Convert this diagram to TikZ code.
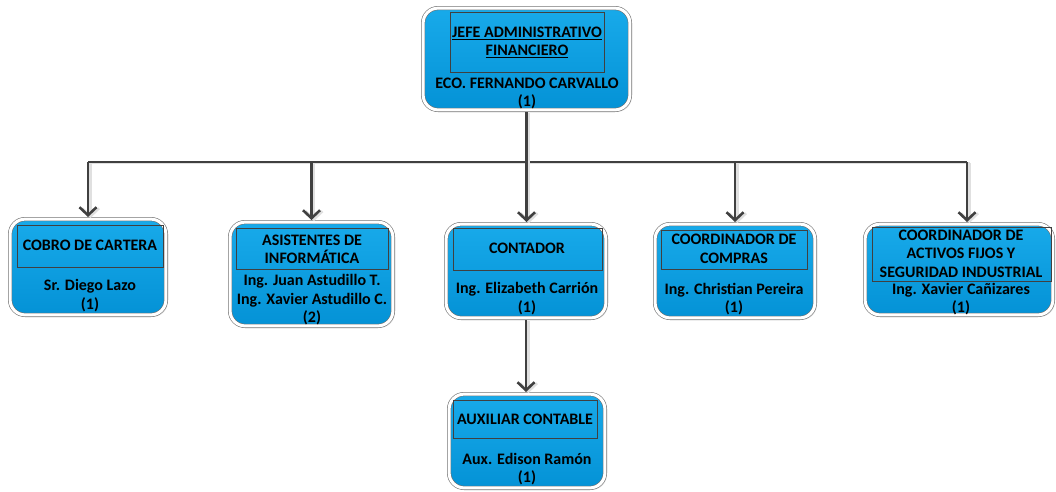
\documentclass[tikz,border=0pt]{standalone}
\usepackage{fontspec}
\setmainfont{Carlito}
\usetikzlibrary{arrows.meta,shadows}

\definecolor{unitTop}{RGB}{24,170,234}
\definecolor{unitBot}{RGB}{4,146,214}
\definecolor{wire}{RGB}{64,64,64}

\tikzset{
  unit/.style={draw=black!55, line width=0.6pt, double=white, double distance=3pt,
    rounded corners=15pt, top color=unitTop, bottom color=unitBot,
    outer sep=2.1pt, inner sep=0pt,
    drop shadow={opacity=0.18, shadow xshift=2pt, shadow yshift=-2pt}},
  titlebox/.style={draw=black!75, line width=0.7pt, inner sep=0pt},
  txt/.style={font=\bfseries\fontsize{16}{18.5}\selectfont, align=center, inner sep=0pt, text=black},
  link/.style={draw=wire, line width=2.6pt,
    preaction={draw=black!12, line width=2.6pt, transform canvas={xshift=2.5pt, yshift=-1pt}}},
  arrowlink/.style={link, -{Straight Barb[length=8pt, width=17pt]}}
}

\begin{document}
\begin{tikzpicture}[x=1pt, y=-1pt]
\useasboundingbox (0,0) rectangle (1056,491);

% --- head of the department
\node[unit, minimum width=206.8pt, minimum height=101.8pt] (jefe) at (526.5,59) {};
\node[titlebox, minimum width=154pt, minimum height=60pt] (jefeT) at (527,42) {};
\node[txt] at (527,42.5) {\underline{JEFE ADMINISTRATIVO}\\\underline{FINANCIERO}};
\node[txt] at (527,93.5) {ECO. FERNANDO CARVALLO\\(1)};

% --- second level
\node[unit, minimum width=155.8pt, minimum height=95.8pt] (cobro) at (88,267) {};
\node[titlebox, minimum width=146pt, minimum height=42pt] (cobroT) at (90,246) {};
\node[txt] at (90,245) {COBRO DE CARTERA};
\node[txt] at (90,295.5) {Sr. Diego Lazo\\(1)};

\node[unit, minimum width=162.8pt, minimum height=103.8pt] (asis) at (311.5,274) {};
\node[titlebox, minimum width=152pt, minimum height=41pt] (asisT) at (312,248.5) {};
\node[txt] at (312,249.5) {ASISTENTES DE\\INFORMÁTICA};
\node[txt] at (312,300) {Ing. Juan Astudillo T.\\Ing. Xavier Astudillo C.\\(2)};

\node[unit, minimum width=159.8pt, minimum height=93.8pt] (conta) at (526,271) {};
\node[titlebox, minimum width=149pt, minimum height=42pt] (contaT) at (527.5,249) {};
\node[txt] at (527,248) {CONTADOR};
\node[txt] at (527,298.5) {Ing. Elizabeth Carrión\\(1)};

\node[unit, minimum width=159.8pt, minimum height=93.8pt] (compras) at (735,271) {};
\node[titlebox, minimum width=146pt, minimum height=39pt] (comprasT) at (734,249.5) {};
\node[txt] at (734,249) {COORDINADOR DE\\COMPRAS};
\node[txt] at (734,299) {Ing. Christian Pereira\\(1)};

\node[unit, minimum width=187.8pt, minimum height=90.8pt] (activos) at (959,269.5) {};
\node[titlebox, minimum width=179pt, minimum height=54pt] (activosT) at (961.5,254) {};
\node[txt] at (961,253.5) {COORDINADOR DE\\ACTIVOS FIJOS Y\\SEGURIDAD INDUSTRIAL};
\node[txt] at (961,299) {Ing. Xavier Cañizares\\(1)};

% --- third level
\node[unit, minimum width=155.8pt, minimum height=93.8pt] (aux) at (527,441) {};
\node[titlebox, minimum width=144pt, minimum height=38pt] (auxT) at (525,419) {};
\node[txt] at (525,419) {AUXILIAR CONTABLE};
\node[txt] at (527,469) {Aux. Edison Ramón\\(1)};

% --- connectors
\coordinate (bus) at (0,162);
\coordinate (busR) at (967,162);
\draw[link] (cobro.north |- bus) -- (busR);
\draw[arrowlink] (jefe.south) -- (jefe.south |- conta.north);
\draw[arrowlink] (cobro.north |- bus) -- (cobro.north);
\draw[arrowlink] (asis.north |- bus) -- (asis.north);
\draw[arrowlink] (compras.north |- bus) -- (compras.north);
\draw[arrowlink] (busR) -- (busR |- activos.north);
\draw[arrowlink] (conta.south) -- (conta.south |- aux.north);
\end{tikzpicture}
\end{document}
